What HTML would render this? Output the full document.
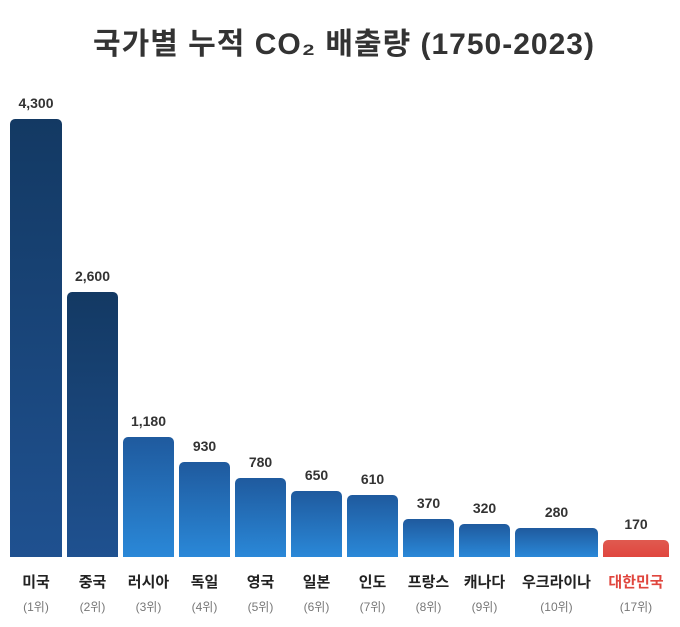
<!DOCTYPE html>
<html><head><meta charset="utf-8"><style>
body{margin:0;width:680px;height:627px;background:#fff;font-family:"Liberation Sans","Noto Sans CJK KR",sans-serif;position:relative;overflow:hidden}
.t{position:absolute;top:19px;left:4px;width:680px;text-align:center;font-size:30px;letter-spacing:1px;font-weight:bold;color:#333}
.b{position:absolute;bottom:70px;border-radius:5px 5px 0 0;background:linear-gradient(#1f5a9e,#2a88d8)}
.b.d{background:linear-gradient(#133963,#1f5190)}
.b.r{background:linear-gradient(#e05a50,#e0463e)}
.v{position:absolute;font-size:14px;font-weight:bold;color:#333;text-align:center}
.n{position:absolute;top:571px;font-size:15px;color:#222;text-align:center;font-weight:bold}
.k{position:absolute;top:598px;font-size:12px;color:#777;text-align:center}
</style></head><body>
<div class="t">국가별 누적 CO₂ 배출량 (1750-2023)</div>
<div id="c"></div>
<script>
var d=[["미국",4300,10,52,1,"d"],["중국",2600,67,51,2,"d"],["러시아",1180,123,51,3,""],["독일",930,179,51,4,""],["영국",780,235,51,5,""],["일본",650,291,51,6,""],["인도",610,347,51,7,""],["프랑스",370,403,51,8,""],["캐나다",320,459,51,9,""],["우크라이나",280,515,83,10,""],["대한민국",170,603,66,17,"r"]];
var h="";
d.forEach(function(e){var ht=e[1]*0.1019;var top=557-ht;
h+='<div class="b '+e[5]+'" style="left:'+e[2]+'px;width:'+e[3]+'px;height:'+ht+'px"></div>';
h+='<div class="v" style="left:'+(e[2]-20)+'px;width:'+(e[3]+40)+'px;top:'+(top-24)+'px">'+e[1].toLocaleString('en-US')+'</div>';
h+='<div class="n" style="left:'+(e[2]-20)+'px;width:'+(e[3]+40)+'px;'+(e[5]=="r"?'color:#e0463e':'')+'">'+e[0]+'</div>';
h+='<div class="k" style="left:'+(e[2]-20)+'px;width:'+(e[3]+40)+'px">('+e[4]+'위)</div>';});
document.getElementById("c").innerHTML=h;
</script>
</body></html>
